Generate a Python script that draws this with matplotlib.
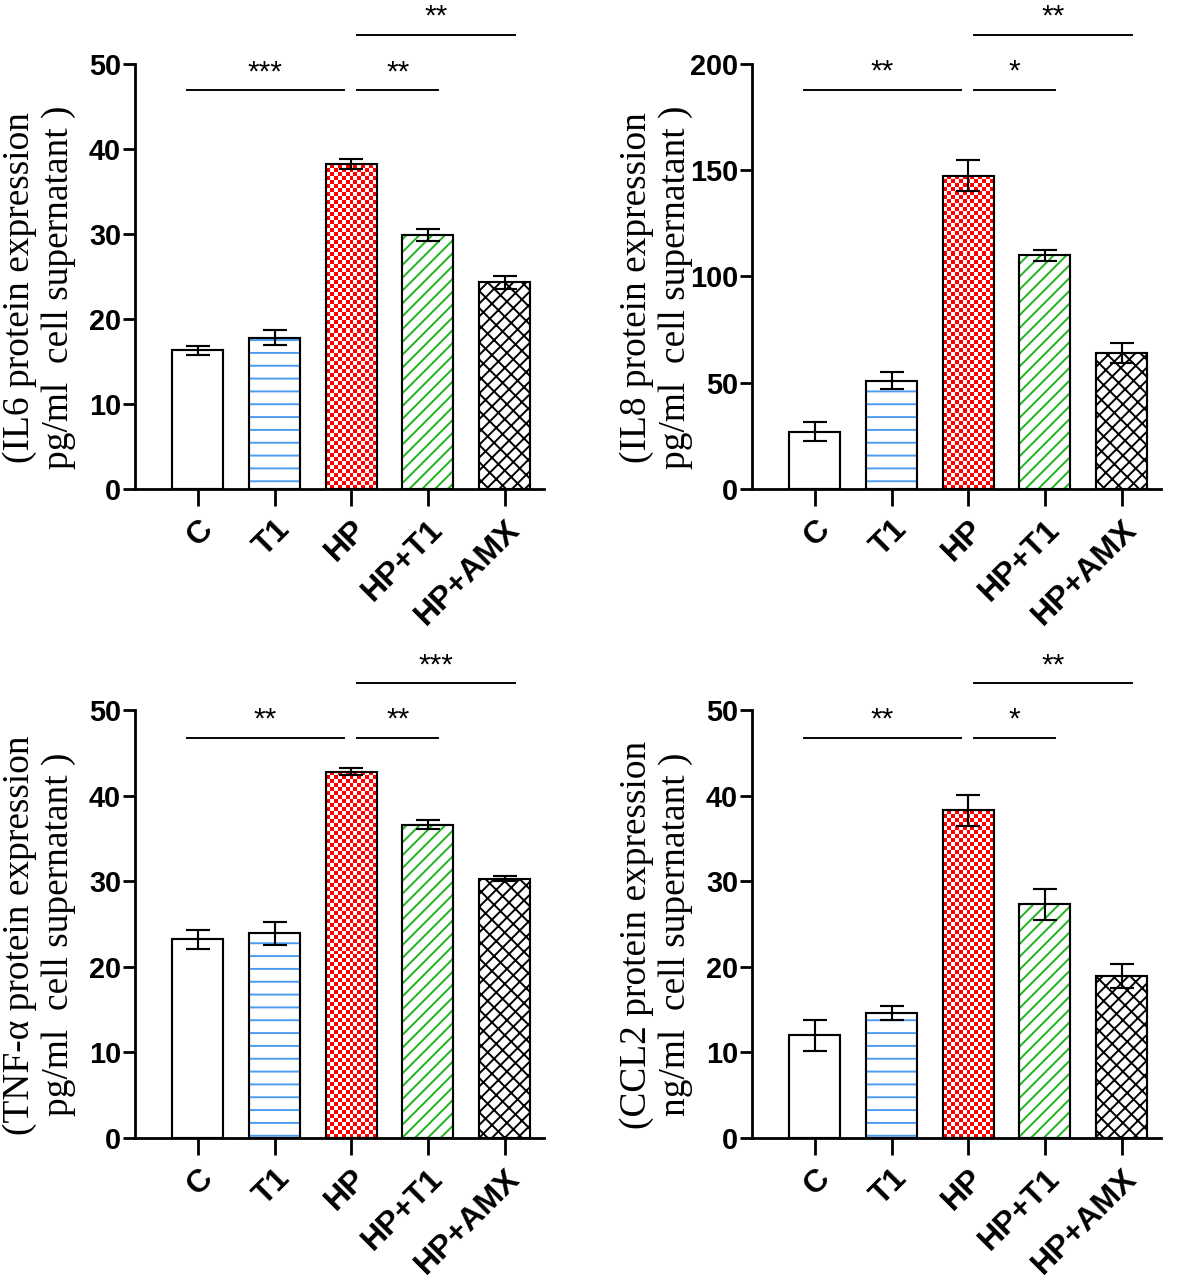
import numpy as np
import matplotlib
matplotlib.use("Agg")
import matplotlib.pyplot as plt
from matplotlib.colors import ListedColormap

# data
groups = ['C', 'T1', 'HP', 'HP+T1', 'HP+AMX']

il6_mean = [16.3, 17.8, 38.2, 29.9, 24.3]
il6_err = [0.5, 0.9, 0.6, 0.7, 0.8]
il8_mean = [27.0, 51.0, 147.5, 110.0, 64.0]
il8_err = [4.5, 4.0, 7.5, 2.5, 4.5]
tnf_mean = [23.2, 23.9, 42.8, 36.6, 30.3]
tnf_err = [1.1, 1.3, 0.4, 0.5, 0.3]
ccl2_mean = [12.0, 14.6, 38.3, 27.3, 18.9]
ccl2_err = [1.8, 0.8, 1.8, 1.8, 1.4]

il6_sig = [(0, 2, 46.9, '***'), (2, 3, 46.9, '**'), (2, 4, 53.4, '**')]
il8_sig = [(0, 2, 187.8, '**'), (2, 3, 187.8, '*'), (2, 4, 213.6, '**')]
tnf_sig = [(0, 2, 46.7, '**'), (2, 3, 46.7, '**'), (2, 4, 53.1, '***')]
ccl2_sig = [(0, 2, 46.7, '**'), (2, 3, 46.7, '*'), (2, 4, 53.1, '**')]

DPI = 154
plt.rcParams['hatch.linewidth'] = 0.9
plt.rcParams['font.family'] = 'Liberation Sans'

fig = plt.figure(figsize=(1180 / DPI, 1282 / DPI), dpi=DPI)

# hatch pattern / colour for each group (HP gets a checkerboard texture)
hatches = [None, '--', 'checker', '////', '////' + '\\' * 3]
hcolors = ['black', '#4a9cf2', '#ff0000', '#1cb41c', 'black']


def panel(rect, mean, err, ymax, step, sig, ylab):
    ax = fig.add_axes(rect)
    x = np.arange(len(groups))
    w = 0.665
    ax.set_xlim(-0.82, 4.52)
    ax.set_ylim(0, ymax)
    ax.bar(x, mean, w, color='white', edgecolor='none', zorder=1)
    for i, (h, c) in enumerate(zip(hatches, hcolors)):
        if h is None:
            continue
        if h == 'checker':
            p = ax.bar(x[i], mean[i], w, color='none', edgecolor='none',
                       zorder=1)[0]
            # checker cells ~4 px
            p0 = ax.transData.transform((0, 0))
            p1 = ax.transData.transform((w, mean[i]))
            ncol = max(int(round((p1[0] - p0[0]) / 4)), 1)
            nrow = max(int(round((p1[1] - p0[1]) / 4)), 1)
            chk = (np.add.outer(np.arange(nrow), np.arange(ncol)) % 2)
            im = ax.imshow(chk, cmap=ListedColormap(['white', c]),
                           extent=(x[i] - w / 2, x[i] + w / 2, 0, mean[i]),
                           aspect='auto', interpolation='nearest', zorder=1.5)
            im.set_clip_path(p)
        else:
            ax.bar(x[i], mean[i], w, color='none', edgecolor=c, hatch=h,
                   linewidth=0, zorder=2)
    ax.bar(x, mean, w, color='none', edgecolor='black', linewidth=1.0,
           zorder=3)
    ax.errorbar(x, mean, yerr=err, fmt='none', ecolor='black', elinewidth=1.0,
                capsize=5.8, capthick=1.0, zorder=4)
    ax.set_xlim(-0.82, 4.52)
    ax.set_ylim(0, ymax)
    ax.set_yticks(np.arange(0, ymax + 1, step))

    for s in ['top', 'right']:
        ax.spines[s].set_visible(False)
    for s in ['left', 'bottom']:
        ax.spines[s].set_linewidth(1.3)
    ax.tick_params(axis='y', width=1.3, length=5.6, pad=1, labelsize=13.5)
    ax.tick_params(axis='x', width=1.3, length=8, pad=4, labelsize=15)
    for t in ax.get_yticklabels():
        t.set_fontweight('bold')
    ax.set_xticks(x)
    ax.set_xticklabels(groups, rotation=45, ha='right', va='top',
                       rotation_mode='anchor', fontweight='bold')

    for i, j, yy, lab in sig:
        left = i + (0.08 if i else -0.14)
        right = j + (-0.1 if j == 2 else 0.13)
        ax.plot([left, right], [yy, yy], color='black', lw=0.9, clip_on=False)
        ax.text((left + right) / 2, yy + ymax * 0.01, lab, ha='center',
                va='bottom', fontsize=14, clip_on=False)

    ax.text(-0.234, 0.475, ylab, transform=ax.transAxes, rotation=90,
            ha='center', va='center', multialignment='center',
            family='Liberation Serif', fontsize=17.5, linespacing=1.2)
    return ax


panel([0.1144, 0.6186, 0.347, 0.3315], il6_mean, il6_err, 50, 10, il6_sig,
      '(IL6 protein expression\npg/ml  cell supernatant )')
panel([0.6373, 0.6186, 0.347, 0.3315], il8_mean, il8_err, 200, 50, il8_sig,
      '(IL8 protein expression\npg/ml  cell supernatant )')
panel([0.1144, 0.1123, 0.347, 0.3339], tnf_mean, tnf_err, 50, 10, tnf_sig,
      '(TNF-α protein expression\npg/ml  cell supernatant )')
panel([0.6373, 0.1123, 0.347, 0.3339], ccl2_mean, ccl2_err, 50, 10, ccl2_sig,
      '(CCL2 protein expression\nng/ml  cell supernatant )')

fig.savefig('out.png', dpi=DPI)
